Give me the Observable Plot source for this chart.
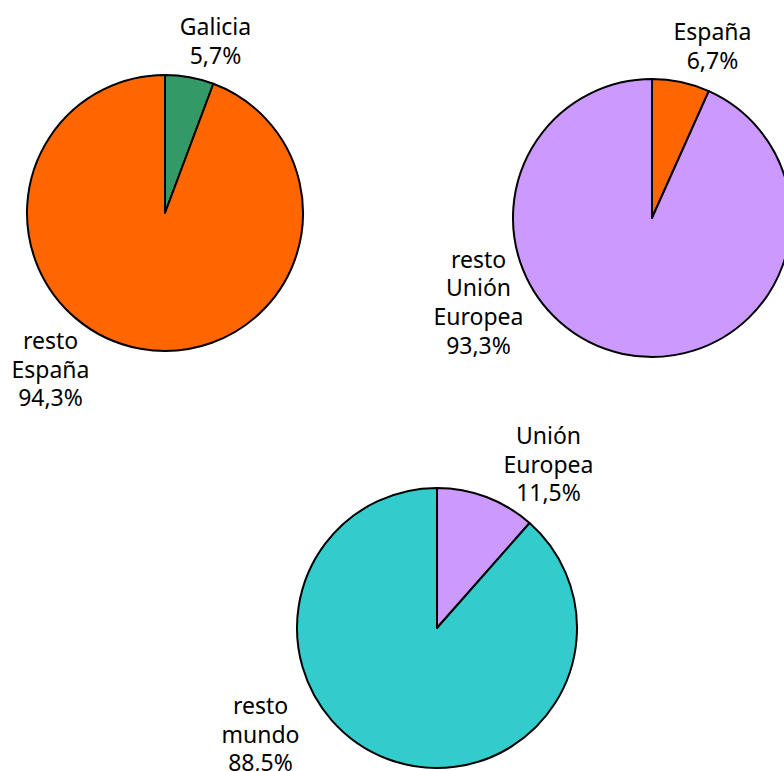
<!DOCTYPE html>
<html>
<head>
<meta charset="utf-8">
<script src="https://cdn.jsdelivr.net/npm/d3@7"></script>
<script src="https://cdn.jsdelivr.net/npm/@observablehq/plot@0.6"></script>
<style>
  html, body { margin: 0; padding: 0; background: #fff; }
  #chart svg { display: block; }
</style>
</head>
<body>
<div id="chart"></div>
<script>
// ---- data ----
const pie1Categories = ["Galicia", "resto España"];
const pie1Values = [5.7, 94.3];
const pie2Categories = ["España", "resto Unión Europea"];
const pie2Values = [6.7, 93.3];
const pie3Categories = ["Unión Europea", "resto mundo"];
const pie3Values = [11.5, 88.5];
const pie1Labels = ["Galicia\n5,7%", "resto\nEspaña\n94,3%"];
const pie2Labels = ["España\n6,7%", "resto\nUnión\nEuropea\n93,3%"];
const pie3Labels = ["Unión\nEuropea\n11,5%", "resto\nmundo\n88,5%"];

// ---- layout (pixel space) ----
const W = 784, H = 771;
const pieLayout = [
  {cx: 165, cy: 213, r: 138},
  {cx: 652, cy: 218, r: 139},
  {cx: 437, cy: 628, r: 140}
];
const labelLayout = [
  [{x: 215, y: 40}, {x: 50, y: 368}],
  [{x: 712, y: 45}, {x: 478, y: 301}],
  [{x: 548, y: 463}, {x: 260, y: 733}]
];
const colorMap = {
  "Galicia": "#339966",
  "resto España": "#FF6600",
  "España": "#FF6600",
  "resto Unión Europea": "#CC99FF",
  "Unión Europea": "#CC99FF",
  "resto mundo": "#33CCCC"
};

const pieSets = [
  {cats: pie1Categories, vals: pie1Values, labels: pie1Labels},
  {cats: pie2Categories, vals: pie2Values, labels: pie2Labels},
  {cats: pie3Categories, vals: pie3Values, labels: pie3Labels}
];

const slices = [];
const labels = [];
pieSets.forEach((p, i) => {
  const arcs = d3.pie().sort(null).value(d => d)(p.vals);
  arcs.forEach((a, j) => {
    slices.push({pie: i, category: p.cats[j], value: p.vals[j], startAngle: a.startAngle, endAngle: a.endAngle});
    labels.push({pie: i, text: p.labels[j], x: labelLayout[i][j].x, y: labelLayout[i][j].y});
  });
});

function pieMark(index, scales) {
  const g = d3.create("svg:g");
  const arc = d3.arc();
  for (const s of slices) {
    const L = pieLayout[s.pie];
    const cx = scales.x(L.cx), cy = scales.y(L.cy);
    const r = scales.x(L.cx + L.r) - scales.x(L.cx);
    g.append("path")
      .attr("transform", `translate(${cx},${cy})`)
      .attr("d", arc({innerRadius: 0, outerRadius: r, startAngle: s.startAngle, endAngle: s.endAngle}))
      .attr("fill", colorMap[s.category])
      .attr("stroke", "#000")
      .attr("stroke-width", 2)
      .attr("stroke-linejoin", "round");
  }
  return g.node();
}

const chart = Plot.plot({
  width: W,
  height: H,
  margin: 0,
  x: {domain: [0, W], range: [0, W], axis: null},
  y: {domain: [0, H], range: [0, H], axis: null},
  style: {fontFamily: "'Noto Sans', sans-serif", fontSize: "23px", background: "#fff"},
  marks: [
    pieMark,
    Plot.text(labels, {
      x: "x", y: "y", text: "text",
      textAnchor: "middle", lineAnchor: "middle", lineHeight: 1.25,
      fill: "#000", fontSize: 23
    })
  ]
});
document.getElementById("chart").appendChild(chart);
</script>
</body>
</html>
